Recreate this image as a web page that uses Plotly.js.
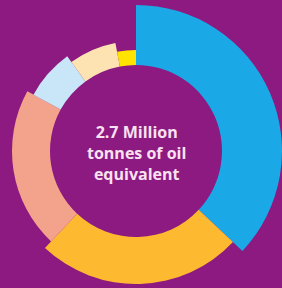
<!DOCTYPE html>
<html>
<head>
<meta charset="utf-8">
<script src="https://cdn.plot.ly/plotly-3.0.1.min.js"></script>
<style>
  html, body { margin: 0; padding: 0; width: 282px; height: 288px; overflow: hidden; background: #8D1A80; }
  #chart { position: absolute; left: -24px; top: -9px; width: 320px; height: 320px; }
</style>
</head>
<body>
<div id="chart"></div>
<script>
// Data
const categories = ['Segment 1', 'Segment 2', 'Segment 3', 'Segment 4', 'Segment 5', 'Segment 6'];
const shares = [37, 25, 21, 7, 7, 3];            // percent of total
const reach = [146, 133, 124, 117, 110, 101];    // outer radial value of each slice
const innerReach = 86;                           // common inner radial value
const centerLines = ['2.7 Million', 'tonnes of oil', 'equivalent'];
const colors = ['#1AA9E6', '#FDBA30', '#F3A38B', '#C8E6F8', '#FDE2B2', '#FFE400'];

const total = shares.reduce((a, b) => a + b, 0);
let cum = 0;
const theta = [], width = [];
shares.forEach(s => {
  const w = s / total * 360;
  theta.push(cum + w / 2);
  width.push(w);
  cum += w;
});

const trace = {
  type: 'barpolar',
  r: reach.map(v => v - innerReach),
  base: shares.map(() => innerReach),
  theta: theta,
  width: width,
  text: categories,
  marker: { color: colors, line: { width: 0 } },
  hoverinfo: 'text'
};

const layout = {
  width: 320, height: 320,
  margin: { l: 0, r: 0, t: 0, b: 0 },
  paper_bgcolor: '#8D1A80',
  plot_bgcolor: '#8D1A80',
  showlegend: false,
  polar: {
    domain: { x: [0, 1], y: [0, 1] },
    bgcolor: 'rgba(0,0,0,0)',
    radialaxis: { visible: false, range: [0, 160] },
    angularaxis: { visible: false, direction: 'clockwise', rotation: 90 }
  },
  annotations: [{
    xref: 'paper', yref: 'paper', x: 0.5, y: 0.495,
    xanchor: 'center', yanchor: 'middle',
    text: centerLines.join('<br>'),
    showarrow: false,
    font: { family: 'Open Sans', size: 16, color: '#F8E2F2', weight: 'bold' }
  }]
};

Plotly.newPlot('chart', [trace], layout, { staticPlot: true, displayModeBar: false });
</script>
</body>
</html>
